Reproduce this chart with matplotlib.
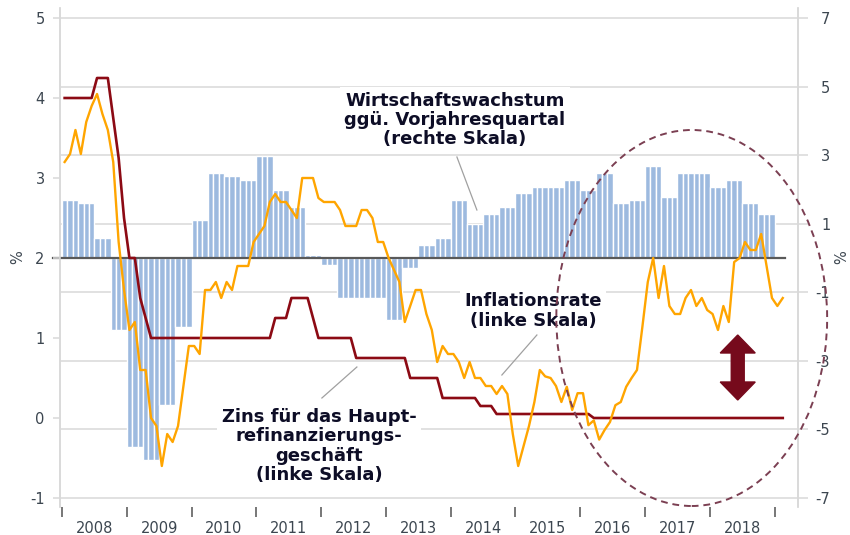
import numpy as np
import matplotlib
matplotlib.use("Agg")
import matplotlib.pyplot as plt
from matplotlib.patches import Ellipse, Polygon

plt.rcParams['axes.unicode_minus'] = False

# Wirtschaftswachstum ggü. Vorjahresquartal (rechte Skala), Quartale 2008Q1-2018Q4
gdp_q = [1.69, 1.60, 0.58, -2.1,
         -5.5, -5.9, -4.3, -2.0,
         1.1, 2.48, 2.39, 2.27,
         2.97, 1.98, 1.49, 0.09,
         -0.2, -1.17, -1.17, -1.17,
         -1.8, -0.3, 0.38, 0.58,
         1.69, 0.99, 1.28, 1.49,
         1.89, 2.07, 2.07, 2.27,
         1.98, 2.48, 1.6, 1.69,
         2.68, 1.78, 2.48, 2.48,
         2.07, 2.27, 1.6, 1.28]

# Inflationsrate (linke Skala), monatlich Jan 2008 - Feb 2019
inflation = [3.2, 3.3, 3.6, 3.3, 3.7, 3.9, 4.05, 3.8, 3.6, 3.2, 2.2, 1.6,
             1.1, 1.2, 0.6, 0.6, 0.0, -0.1, -0.6, -0.2, -0.3, -0.1, 0.4, 0.9,
             0.9, 0.8, 1.6, 1.6, 1.7, 1.5, 1.7, 1.6, 1.9, 1.9, 1.9, 2.2,
             2.3, 2.4, 2.7, 2.8, 2.7, 2.7, 2.6, 2.5, 3.0, 3.0, 3.0, 2.75,
             2.7, 2.7, 2.7, 2.6, 2.4, 2.4, 2.4, 2.6, 2.6, 2.5, 2.2, 2.2,
             2.0, 1.85, 1.7, 1.2, 1.4, 1.6, 1.6, 1.3, 1.1, 0.7, 0.9, 0.8,
             0.8, 0.7, 0.5, 0.7, 0.5, 0.5, 0.4, 0.4, 0.3, 0.4, 0.3, -0.2,
             -0.6, -0.35, -0.1, 0.2, 0.6, 0.52, 0.5, 0.4, 0.2, 0.39, 0.1, 0.31,
             0.31, -0.09, -0.03, -0.27, -0.15, -0.05, 0.16, 0.2, 0.39, 0.5, 0.6, 1.14,
             1.7, 2.0, 1.5, 1.9, 1.4, 1.3, 1.3, 1.5, 1.6, 1.4, 1.5, 1.35,
             1.3, 1.1, 1.4, 1.2, 1.95, 2.0, 2.2, 2.1, 2.1, 2.3, 1.9, 1.5,
             1.4, 1.5]

# Zins für das Hauptrefinanzierungsgeschäft (linke Skala), monatlich
ecb_rate = ([4.0] * 6 + [4.25] * 3 + [3.75, 3.25, 2.5]
            + [2.0, 2.0, 1.5, 1.25] + [1.0] * 8
            + [1.0] * 12
            + [1.0] * 3 + [1.25] * 3 + [1.5] * 4 + [1.25, 1.0]
            + [1.0] * 6 + [0.75] * 6
            + [0.75] * 4 + [0.5] * 6 + [0.25] * 2
            + [0.25] * 5 + [0.15] * 3 + [0.05] * 4
            + [0.05] * 12
            + [0.05] * 2 + [0.0] * 10
            + [0.0] * 24
            + [0.0] * 2)

years = list(range(2008, 2020))
year_labels = [str(y) for y in range(2008, 2019)]
left_ticks = [-1, 0, 1, 2, 3, 4, 5]
right_ticks = [-7, -5, -3, -1, 1, 3, 5, 7]

BAR_C = '#9dbadf'
ORANGE = '#ffa500'
RED = '#8c0a14'
GRID = '#d9d9d9'
TXT = '#3c4650'
ANN = '#0d0d26'

gdp_m = np.repeat(gdp_q, 3)
x_bars = 2008 + (np.arange(len(gdp_m)) + 0.5) / 12
x_months = 2008 + (np.arange(len(inflation)) + 0.5) / 12

fig = plt.figure(figsize=(8.5, 5.35), dpi=100)
ax_b = fig.add_axes([60 / 850, 28 / 535, 738 / 850, 499 / 535])
ax_l = ax_b.twinx()
ax_b.yaxis.tick_right()
ax_l.yaxis.tick_left()

# Balken (rechte Skala)
ax_b.bar(x_bars, gdp_m, width=1 / 12, color=BAR_C, edgecolor='white',
         linewidth=1.0, zorder=2)
ax_b.axhline(0, xmin=-0.0095, xmax=0.982, color='#595959', lw=1.6,
             clip_on=False, zorder=3)
ax_b.set_ylim(-7.2625, 7.2917)
ax_b.set_yticks(right_ticks)
ax_b.yaxis.grid(True, color=GRID, lw=1.1)
ax_b.set_axisbelow(True)
ax_b.tick_params(axis='y', length=7.2, width=1.1, color=GRID, pad=16,
                 labelsize=10.5, labelcolor=TXT)
for lab in ax_b.get_yticklabels():
    lab.set_ha('right')

ax_b.set_xlim(2007.97, 2019.36)
ax_b.set_xticks(years)
ax_b.set_xticklabels([])
ax_b.set_xticks([y + 0.5 for y in range(2008, 2019)], minor=True)
ax_b.set_xticklabels(year_labels, minor=True)
ax_b.tick_params(axis='x', which='major', length=7.2, width=1.2,
                 color='#606060', direction='out')
ax_b.tick_params(axis='x', which='minor', length=0, pad=10,
                 labelsize=10.5, labelcolor=TXT)

# Linien (linke Skala)
ax_l.plot(x_months, ecb_rate, color=RED, lw=1.9, zorder=4)
ax_l.plot(x_months, inflation, color=ORANGE, lw=1.7, zorder=5)
ax_l.set_ylim(-1.1125, 5.125)
ax_l.set_yticks(left_ticks)
ax_l.tick_params(axis='y', length=5, width=1.1, color=GRID, pad=6,
                 labelsize=10.5, labelcolor=TXT)

for a in (ax_b, ax_l):
    a.spines['top'].set_visible(False)
    a.spines['bottom'].set_visible(False)
    a.spines['left'].set_color(GRID)
    a.spines['right'].set_color(GRID)
    a.spines['left'].set_linewidth(1.1)
    a.spines['right'].set_linewidth(1.1)

fig.text(18 / 850, 1 - 257 / 535, '%', rotation=90, ha='center', va='center',
         fontsize=10.5, color=TXT)
fig.text(842 / 850, 1 - 257 / 535, '%', rotation=90, ha='center', va='center',
         fontsize=10.5, color=TXT)

# Beschriftungen
box = dict(facecolor='white', edgecolor='none', boxstyle='square,pad=0.25')
ax_l.text(2014.065, 3.725, 'Wirtschaftswachstum\nggü. Vorjahresquartal\n(rechte Skala)',
          ha='center', va='center', fontsize=13, fontweight='bold', color=ANN,
          linespacing=1.1, bbox=box, zorder=6)
ax_l.plot([2014.096, 2014.404], [3.2625, 2.6], color='#a0a0a0', lw=0.9, zorder=6)

ax_l.text(2015.27, 1.3375, 'Inflationsrate\n(linke Skala)',
          ha='center', va='center', fontsize=13, fontweight='bold', color=ANN,
          linespacing=1.1, bbox=box, zorder=6)
ax_l.plot([2015.33, 2014.79], [1.0375, 0.5375], color='#a0a0a0', lw=0.9, zorder=6)

ax_l.text(2011.966, -0.35, 'Zins für das Haupt-\nrefinanzierungs-\ngeschäft\n(linke Skala)',
          ha='center', va='center', fontsize=13, fontweight='bold', color=ANN,
          linespacing=1.1, bbox=box, zorder=6)
ax_l.plot([2012.012, 2012.552], [0.25, 0.6375], color='#a0a0a0', lw=0.9, zorder=6)

# gestrichelte Ellipse
ax_l.add_patch(Ellipse((2017.72, 1.25), 4.18, 4.7, fill=False, ec='#7b3f52',
                       lw=1.4, ls=(0, (3.5, 2.5)), clip_on=False, zorder=7))

# Doppelpfeil
ax_x, top, bot = 2018.43, 1.0375, 0.225
hw, sw, hl = 0.27, 0.1, 0.225
pts = [(ax_x, top), (ax_x + hw, top - hl), (ax_x + sw, top - hl),
       (ax_x + sw, bot + hl), (ax_x + hw, bot + hl), (ax_x, bot),
       (ax_x - hw, bot + hl), (ax_x - sw, bot + hl), (ax_x - sw, top - hl),
       (ax_x - hw, top - hl)]
ax_l.add_patch(Polygon(pts, closed=True, color='#760a1c', zorder=7))

fig.savefig('out.png', dpi=100)
